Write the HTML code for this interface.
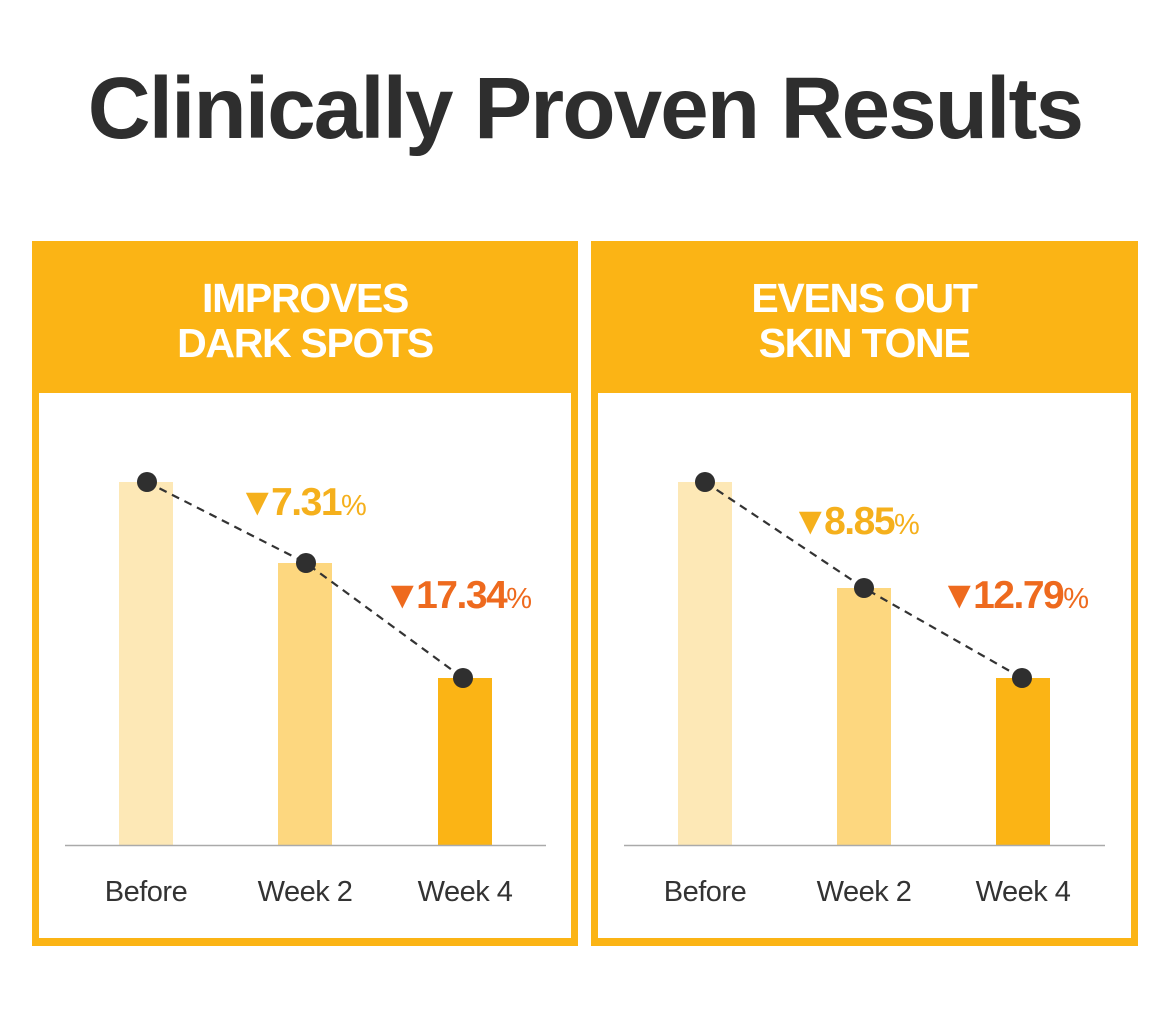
<!DOCTYPE html>
<html><head><meta charset="utf-8"><style>
html,body{margin:0;padding:0;background:#fff;}
body{width:1170px;height:1013px;position:relative;overflow:hidden;font-family:"Liberation Sans",sans-serif;}
</style></head><body>
<svg width="1170" height="1013" viewBox="0 0 1170 1013" xmlns="http://www.w3.org/2000/svg" style="position:absolute;left:0;top:0">
<text x="585" y="138" text-anchor="middle" font-family="Liberation Sans, sans-serif" font-weight="bold" font-size="87" fill="#2e2e2e" letter-spacing="-1.8">Clinically Proven Results</text>

<!-- Left panel -->
<rect x="32" y="241" width="546" height="705" fill="#FBB415"/>
<rect x="39" y="393" width="532" height="545" fill="#fff"/>
<text x="305" y="312" text-anchor="middle" font-weight="bold" font-size="41" fill="#fff" letter-spacing="-1.3">IMPROVES</text>
<text x="305" y="357" text-anchor="middle" font-weight="bold" font-size="41" fill="#fff" letter-spacing="-1.3">DARK SPOTS</text>
<rect x="119" y="482" width="54" height="363" fill="#FDE8B6"/>
<rect x="278" y="563" width="54" height="282" fill="#FDD77F"/>
<rect x="438" y="678" width="54" height="167" fill="#FBB415"/>
<line x1="65" y1="845.5" x2="546" y2="845.5" stroke="#aaa" stroke-width="1.5"/>
<polyline points="147,482 306,563 463,678" fill="none" stroke="#333" stroke-width="2.2" stroke-dasharray="8,6"/>
<circle cx="147" cy="482" r="10" fill="#2f2f2f"/>
<circle cx="306" cy="563" r="10" fill="#2f2f2f"/>
<circle cx="463" cy="678" r="10" fill="#2f2f2f"/>
<text x="238" y="515" font-weight="bold" font-size="39" fill="#F5B01C" letter-spacing="-1.5">▼<tspan dx="-4">7.31</tspan><tspan font-size="29" font-weight="normal">%</tspan></text>
<text x="383" y="608" font-weight="bold" font-size="39" fill="#EE6A1E" letter-spacing="-1.5">▼<tspan dx="-4">17.34</tspan><tspan font-size="29" font-weight="normal">%</tspan></text>
<text x="146" y="901" text-anchor="middle" font-size="29" fill="#333" letter-spacing="-0.5">Before</text>
<text x="305" y="901" text-anchor="middle" font-size="29" fill="#333" letter-spacing="-0.5">Week 2</text>
<text x="465" y="901" text-anchor="middle" font-size="29" fill="#333" letter-spacing="-0.5">Week 4</text>

<!-- Right panel -->
<rect x="591" y="241" width="547" height="705" fill="#FBB415"/>
<rect x="598" y="393" width="533" height="545" fill="#fff"/>
<text x="864" y="312" text-anchor="middle" font-weight="bold" font-size="41" fill="#fff" letter-spacing="-1.3">EVENS OUT</text>
<text x="864" y="357" text-anchor="middle" font-weight="bold" font-size="41" fill="#fff" letter-spacing="-1.3">SKIN TONE</text>
<rect x="678" y="482" width="54" height="363" fill="#FDE8B6"/>
<rect x="837" y="588" width="54" height="257" fill="#FDD77F"/>
<rect x="996" y="678" width="54" height="167" fill="#FBB415"/>
<line x1="624" y1="845.5" x2="1105" y2="845.5" stroke="#aaa" stroke-width="1.5"/>
<polyline points="705,482 864,588 1022,678" fill="none" stroke="#333" stroke-width="2.2" stroke-dasharray="8,6"/>
<circle cx="705" cy="482" r="10" fill="#2f2f2f"/>
<circle cx="864" cy="588" r="10" fill="#2f2f2f"/>
<circle cx="1022" cy="678" r="10" fill="#2f2f2f"/>
<text x="791" y="534" font-weight="bold" font-size="39" fill="#F5B01C" letter-spacing="-1.5">▼<tspan dx="-4">8.85</tspan><tspan font-size="29" font-weight="normal">%</tspan></text>
<text x="940" y="608" font-weight="bold" font-size="39" fill="#EE6A1E" letter-spacing="-1.5">▼<tspan dx="-4">12.79</tspan><tspan font-size="29" font-weight="normal">%</tspan></text>
<text x="705" y="901" text-anchor="middle" font-size="29" fill="#333" letter-spacing="-0.5">Before</text>
<text x="864" y="901" text-anchor="middle" font-size="29" fill="#333" letter-spacing="-0.5">Week 2</text>
<text x="1023" y="901" text-anchor="middle" font-size="29" fill="#333" letter-spacing="-0.5">Week 4</text>
</svg>
</body></html>
